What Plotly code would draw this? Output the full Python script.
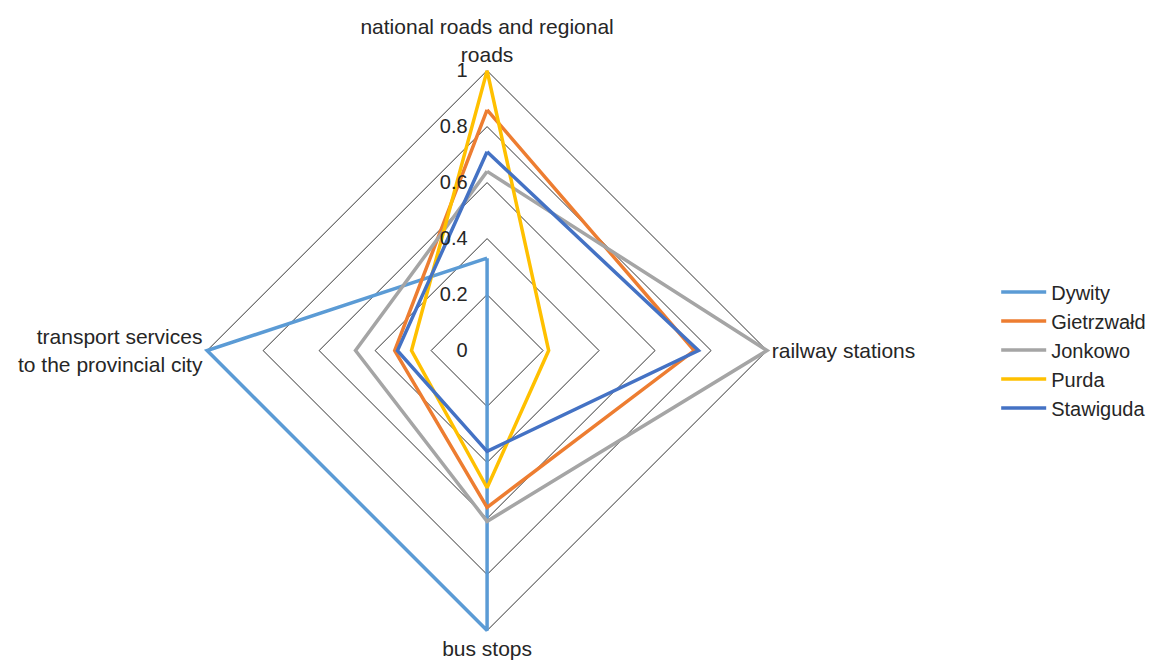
import plotly.graph_objects as go

categories = [
    "national roads and regional<br>roads",
    "railway stations",
    "bus stops",
    "transport services<br>to the provincial city",
]

series_names = ["Dywity", "Gietrzwałd", "Jonkowo", "Purda", "Stawiguda"]

dywity = [0.33, 0.0, 1.0, 1.0]
gietrzwald = [0.86, 0.74, 0.56, 0.33]
jonkowo = [0.64, 1.0, 0.61, 0.47]
purda = [1.0, 0.22, 0.49, 0.27]
stawiguda = [0.71, 0.755, 0.36, 0.32]

radial_ticks = [0, 0.2, 0.4, 0.6, 0.8, 1]
radial_tick_text = ["0", "0.2", "0.4", "0.6", "0.8", "1"]

colors = ["#5B9BD5", "#ED7D31", "#A5A5A5", "#FFC000", "#4472C4"]

fig = go.Figure()
for name, vals, col in zip(series_names, [dywity, gietrzwald, jonkowo, purda, stawiguda], colors):
    fig.add_trace(go.Scatterpolar(
        r=vals + vals[:1],
        theta=categories + categories[:1],
        mode="lines",
        name=name,
        cliponaxis=False,
        line=dict(color=col, width=3.5),
    ))

# overlay subplot that only carries the radial tick labels, so they sit above the lines
fig.add_trace(go.Scatterpolar(
    r=[0], theta=categories[:1], mode="lines",
    subplot="polar2", showlegend=False, hoverinfo="skip",
    line=dict(color="rgba(0,0,0,0)"),
))

font_family = "Liberation Sans, Arial, sans-serif"
# range slightly past 1 so lines lying on the outer ring are not clipped
r_range = [0, 1.015]
domain = dict(x=[0.1760, 0.6689], y=[0.0425, 0.9000])

fig.update_layout(
    width=1153,
    height=663,
    margin=dict(l=0, r=0, t=0, b=0),
    paper_bgcolor="white",
    plot_bgcolor="white",
    font=dict(family=font_family, size=20, color="#262626"),
    polar=dict(
        domain=domain,
        gridshape="linear",
        bgcolor="white",
        radialaxis=dict(
            range=r_range,
            tickvals=radial_ticks,
            angle=90,
            showticklabels=False,
            showline=False,
            ticks="",
            gridcolor="#333333",
            gridwidth=0.8,
            layer="below traces",
        ),
        angularaxis=dict(
            rotation=90,
            direction="clockwise",
            showgrid=False,
            showline=False,
            layer="below traces",
            ticks="",
            tickfont=dict(size=21, color="#262626"),
        ),
    ),
    polar2=dict(
        domain=domain,
        gridshape="linear",
        bgcolor="rgba(0,0,0,0)",
        radialaxis=dict(
            range=r_range,
            tickvals=radial_ticks,
            ticktext=radial_tick_text,
            angle=90,
            side="counterclockwise",
            tickangle=90,
            showgrid=False,
            showline=False,
            ticks="outside",
            ticklen=12,
            tickcolor="rgba(0,0,0,0)",
            layer="above traces",
            tickfont=dict(size=20, color="#262626"),
        ),
        angularaxis=dict(
            rotation=90,
            direction="clockwise",
            showgrid=False,
            showline=False,
            showticklabels=False,
            ticks="",
        ),
    ),
    legend=dict(
        x=0.864,
        y=0.472,
        xanchor="left",
        yanchor="middle",
        itemwidth=45,
        font=dict(size=20, color="#262626"),
        bgcolor="rgba(0,0,0,0)",
    ),
)

fig.write_html("out.html")
